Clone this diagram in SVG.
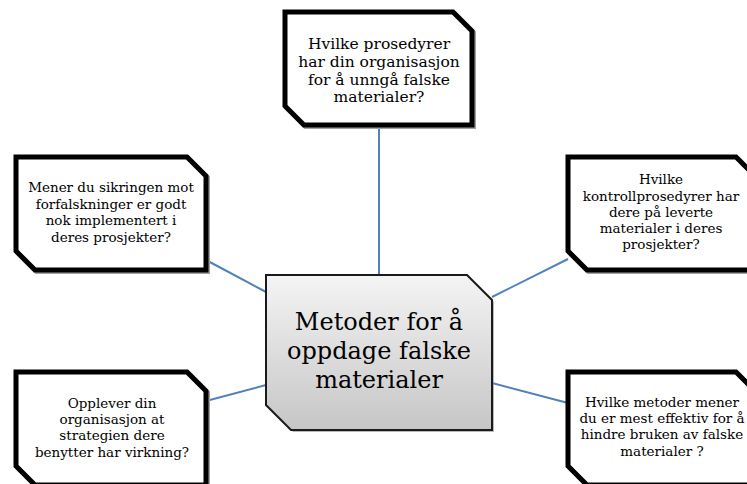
<svg xmlns="http://www.w3.org/2000/svg" width="747" height="484" viewBox="0 0 747 484">
<style>
.conn{stroke:#4f81bd;stroke-width:2;fill:none}
.box{fill:#ffffff;stroke:#000000;stroke-width:5;stroke-linejoin:miter}
.shadow{fill:none;stroke:#a0a0a0;stroke-width:5}
.t{font-family:"DejaVu Serif","Liberation Serif",serif;fill:#000;text-anchor:middle}
.s{font-size:13.5px}
.m{font-size:15.5px}
.c{font-size:24px}
</style>
<defs>
<linearGradient id="g" x1="0" y1="0" x2="0" y2="1">
<stop offset="0" stop-color="#f4f4f4"/>
<stop offset="1" stop-color="#c6c6c6"/>
</linearGradient>
</defs>
<rect width="747" height="484" fill="#ffffff"/>
<g id="connectors">
<line class="conn" x1="379" y1="125" x2="379" y2="275"/>
<line class="conn" x1="206" y1="260" x2="266" y2="292"/>
<line class="conn" x1="492" y1="297" x2="568" y2="259"/>
<line class="conn" x1="206" y1="401" x2="266" y2="385"/>
<line class="conn" x1="492" y1="383" x2="568" y2="403"/>
</g>
<g id="center">
<path d="M268,277 H469 L494,302 V432 H293 L268,407 Z" fill="#8a8a8a" opacity="0.6"/>
<path d="M266,275 H467 L492,300 V430 H291 L266,405 Z" fill="url(#g)" stroke="#1a1a1a" stroke-width="2"/>
<text class="t c" x="379" y="330">Metoder for å</text>
<text class="t c" x="379" y="359">oppdage falske</text>
<text class="t c" x="379" y="388">materialer</text>
</g>
<g id="top">
<path class="shadow" d="M286.5,13.5 H454.5 L473.5,32.5 V126.5 H305.5 L286.5,107.5 Z"/>
<path class="box" d="M285,12 H453 L472,31 V125 H304 L285,106 Z"/>
<text class="t m" x="379" y="49">Hvilke prosedyrer</text>
<text class="t m" x="379" y="67">har din organisasjon</text>
<text class="t m" x="379" y="85">for å unngå falske</text>
<text class="t m" x="379" y="102">materialer?</text>
</g>
<g id="left-top">
<path class="shadow" d="M17.5,158.5 H188.5 L207.5,177.5 V271.5 H36.5 L17.5,252.5 Z"/>
<path class="box" d="M16,157 H187 L206,176 V270 H35 L16,251 Z"/>
<text class="t s" x="111" y="192">Mener du sikringen mot</text>
<text class="t s" x="111" y="209">forfalskninger er godt</text>
<text class="t s" x="111" y="225">nok implementert i</text>
<text class="t s" x="111" y="242">deres prosjekter?</text>
</g>
<g id="right-top">
<path class="shadow" d="M569.5,158.5 H737.5 L756.5,177.5 V271.5 H588.5 L569.5,252.5 Z"/>
<path class="box" d="M568,157 H736 L755,176 V270 H587 L568,251 Z"/>
<text class="t s" x="661" y="184">Hvilke</text>
<text class="t s" x="661" y="201">kontrollprosedyrer har</text>
<text class="t s" x="661" y="217">dere på leverte</text>
<text class="t s" x="661" y="233">materialer i deres</text>
<text class="t s" x="661" y="249">prosjekter?</text>
</g>
<g id="left-bottom">
<path class="shadow" d="M17.5,373.5 H188.5 L207.5,392.5 V486.5 H36.5 L17.5,467.5 Z"/>
<path class="box" d="M16,372 H187 L206,391 V485 H35 L16,466 Z"/>
<text class="t s" x="112" y="408">Opplever din</text>
<text class="t s" x="112" y="424">organisasjon at</text>
<text class="t s" x="112" y="440">strategien dere</text>
<text class="t s" x="112" y="457">benytter har virkning?</text>
</g>
<g id="right-bottom">
<path class="shadow" d="M569.5,373.5 H737.5 L756.5,392.5 V486.5 H588.5 L569.5,467.5 Z"/>
<path class="box" d="M568,372 H736 L755,391 V485 H587 L568,466 Z"/>
<text class="t s" x="662" y="407">Hvilke metoder mener</text>
<text class="t s" x="662" y="423">du er mest effektiv for å</text>
<text class="t s" x="662" y="439">hindre bruken av falske</text>
<text class="t s" x="662" y="456">materialer ?</text>
</g>
</svg>
